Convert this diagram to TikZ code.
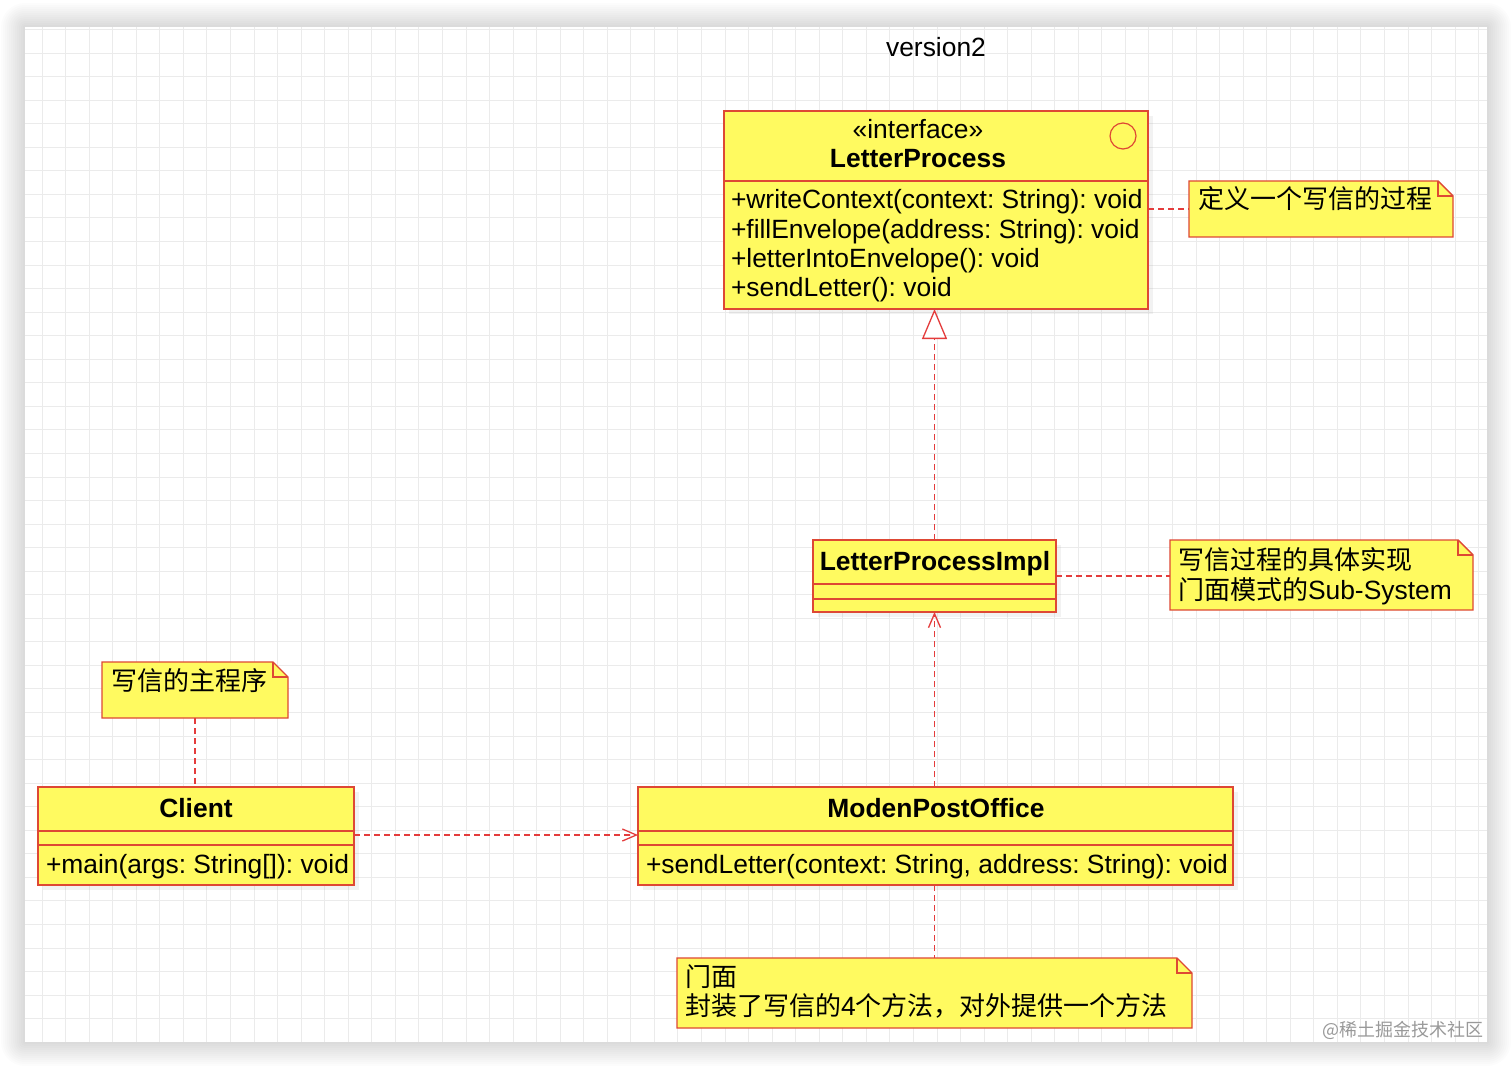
\documentclass[tikz,border=0pt]{standalone}
\usepackage{fontspec}
\setmainfont{Liberation Sans}
\newfontfamily\cjk{Noto Sans CJK SC}
\usetikzlibrary{shadows,arrows.meta}
\definecolor{umlyellow}{RGB}{255,250,96}
\definecolor{umlred}{RGB}{222,72,52}
\definecolor{dashred}{RGB}{228,60,60}
\newcommand\fsz{\fontsize{26.4}{30}\selectfont}
\newcommand\cfsz{\fontsize{26}{30}\selectfont}
\newcommand\mynote[5]{%
  \node[inner sep=0pt, outer sep=0pt, minimum width=#4pt, minimum height=#5pt, anchor=north west] (#1) at (#2,#3) {};
  \draw[notestyle] (#1.north west) -- ([xshift=-15pt]#1.north east) -- ([yshift=-15pt]#1.north east) -- (#1.south east) -- (#1.south west) -- cycle;
  \draw[umlred, line width=1.3pt] ([xshift=-15pt]#1.north east) |- ([yshift=-15pt]#1.north east);
}
\frenchspacing
\begin{document}
\begin{tikzpicture}[x=1pt, y=-1pt,
  cls/.style={draw=umlred, fill=umlyellow, line width=1.4pt, inner sep=0pt, outer sep=0pt,
    drop shadow={shadow xshift=5pt, shadow yshift=-5pt, opacity=0.10}},
  notestyle/.style={draw=umlred, fill=umlyellow, line width=1.4pt},
  txt/.style={inner sep=0pt, outer sep=0pt, font=\fsz},
  ctxt/.style={inner sep=0pt, outer sep=0pt, font=\cjk\cfsz},
  divider/.style={draw=umlred, line width=1.4pt},
  dep/.style={draw=dashred, line width=1.3pt, dash pattern=on 6pt off 4pt},
  gridline/.style={draw=black!8, line width=0.8pt}]
\useasboundingbox (0,0) rectangle (1512,1067);
\fill[white] (0,0) rectangle (1512,1067);
% paper shadow
\foreach \i in {1,...,12} {
  \fill[black, opacity=0.012, rounded corners=2*\i] ({25-2*\i},{27-2*\i}) rectangle ({1487+2*\i},{1042+2*\i});
}
\fill[white] (25,27) rectangle (1487,1042);
\begin{scope}
  \clip (25,27) rectangle (1487,1042);
  \foreach \k in {0,...,62} { \draw[gridline] ({18.45+23.55*\k},27) -- ++(0,1015); }
  \foreach \k in {0,...,43} { \draw[gridline] (25,{5.9+23.55*\k}) -- ++(1462,0); }
\end{scope}

\node[txt, anchor=base] (title) at (936,57) {version2};

% LetterProcess interface
\node[cls, minimum width=424pt, minimum height=198pt, anchor=north west] (lp) at (724,111) {};
\draw[divider] ([yshift=-70pt]lp.north west) -- ([yshift=-70pt]lp.north east);
\node[draw=umlred, line width=1.2pt, circle, minimum size=26pt, inner sep=0pt] (lpicon) at (1123,136) {};
\node[txt, anchor=base] (lpst) at (918,139) {«interface»};
\node[txt, anchor=base, font=\fsz\bfseries] (lpname) at (918,168) {LetterProcess};
\node[txt, anchor=base west] (lpm1) at (731,209) {+writeContext(context: String): void};
\node[txt, anchor=base west] (lpm2) at (731,238.5) {+fillEnvelope(address: String): void};
\node[txt, anchor=base west] (lpm3) at (731,268) {+letterIntoEnvelope(): void};
\node[txt, anchor=base west] (lpm4) at (731,297) {+sendLetter(): void};

% LetterProcessImpl
\node[cls, minimum width=243pt, minimum height=72pt, anchor=north west] (lpi) at (813,540) {};
\draw[divider] ([yshift=-44pt]lpi.north west) -- ([yshift=-44pt]lpi.north east);
\draw[divider] ([yshift=-59pt]lpi.north west) -- ([yshift=-59pt]lpi.north east);
\node[txt, anchor=base, font=\fsz\bfseries] (lpiname) at (935,570) {LetterProcessImpl};

% Client
\node[cls, minimum width=316pt, minimum height=98pt, anchor=north west] (client) at (38,787) {};
\draw[divider] ([yshift=-44pt]client.north west) -- ([yshift=-44pt]client.north east);
\draw[divider] ([yshift=-58pt]client.north west) -- ([yshift=-58pt]client.north east);
\node[txt, anchor=base, font=\fsz\bfseries] (clientname) at (196,817) {Client};
\node[txt, anchor=base west] (clientm) at (46,873) {+main(args: String[]): void};

% ModenPostOffice
\node[cls, minimum width=595pt, minimum height=98pt, anchor=north west] (mpo) at (638,787) {};
\draw[divider] ([yshift=-44pt]mpo.north west) -- ([yshift=-44pt]mpo.north east);
\draw[divider] ([yshift=-58pt]mpo.north west) -- ([yshift=-58pt]mpo.north east);
\node[txt, anchor=base, font=\fsz\bfseries] (mponame) at (936,817) {ModenPostOffice};
\node[txt, anchor=base west] (mpom) at (646,873) {+sendLetter(context: String, address: String): void};

% notes
\mynote{n1}{1189}{181}{264}{56}
\node[ctxt, anchor=base west] (n1t) at (1198,209) {定义一个写信的过程};
\mynote{n2}{1170}{540}{303}{70}
\node[ctxt, anchor=base west] (n2t1) at (1178,569) {写信过程的具体实现};
\node[ctxt, anchor=base west] (n2t2) at (1178,599) {门面模式的{\fontspec{Liberation Sans}\fsz Sub-System}};
\mynote{n3}{102}{662}{186}{56}
\node[ctxt, anchor=base west] (n3t) at (111,690) {写信的主程序};
\mynote{n4}{677}{958}{515}{70}
\node[ctxt, anchor=base west] (n4t1) at (685,986) {门面};
\node[ctxt, anchor=base west] (n4t2) at (685,1015) {封装了写信的{\fontspec{Liberation Sans}\fsz 4}个方法，对外提供一个方法};

% connectors
\draw[dep, -{Triangle[length=30pt, width=25pt, fill=white]}] (lpi.north) -- (lpi.north |- lp.south);
\draw[dep, -{Straight Barb[length=14pt, width=12pt]}] (mpo.north -| lpi.south) -- (lpi.south);
\draw[dep, -{Straight Barb[length=14pt, width=12pt]}] ([yshift=-48pt]client.north east) -- ([yshift=-48pt]mpo.north west);
\draw[dep] ([yshift=-98pt]lp.north east) -- ([yshift=-28pt]n1.north west);
\draw[dep] ([yshift=-36pt]lpi.north east) -- ([yshift=-36pt]n2.north west);
\draw[dep] (n3.south) -- (n3.south |- client.north);
\draw[dep] (mpo.south -| lpi.south) -- (n4.north -| lpi.south);

\node[anchor=base east, inner sep=0pt, text=black!40, font=\cjk\fontsize{18}{20}\selectfont] (wm) at (1484,1036) {@稀土掘金技术社区};
\end{tikzpicture}
\end{document}
